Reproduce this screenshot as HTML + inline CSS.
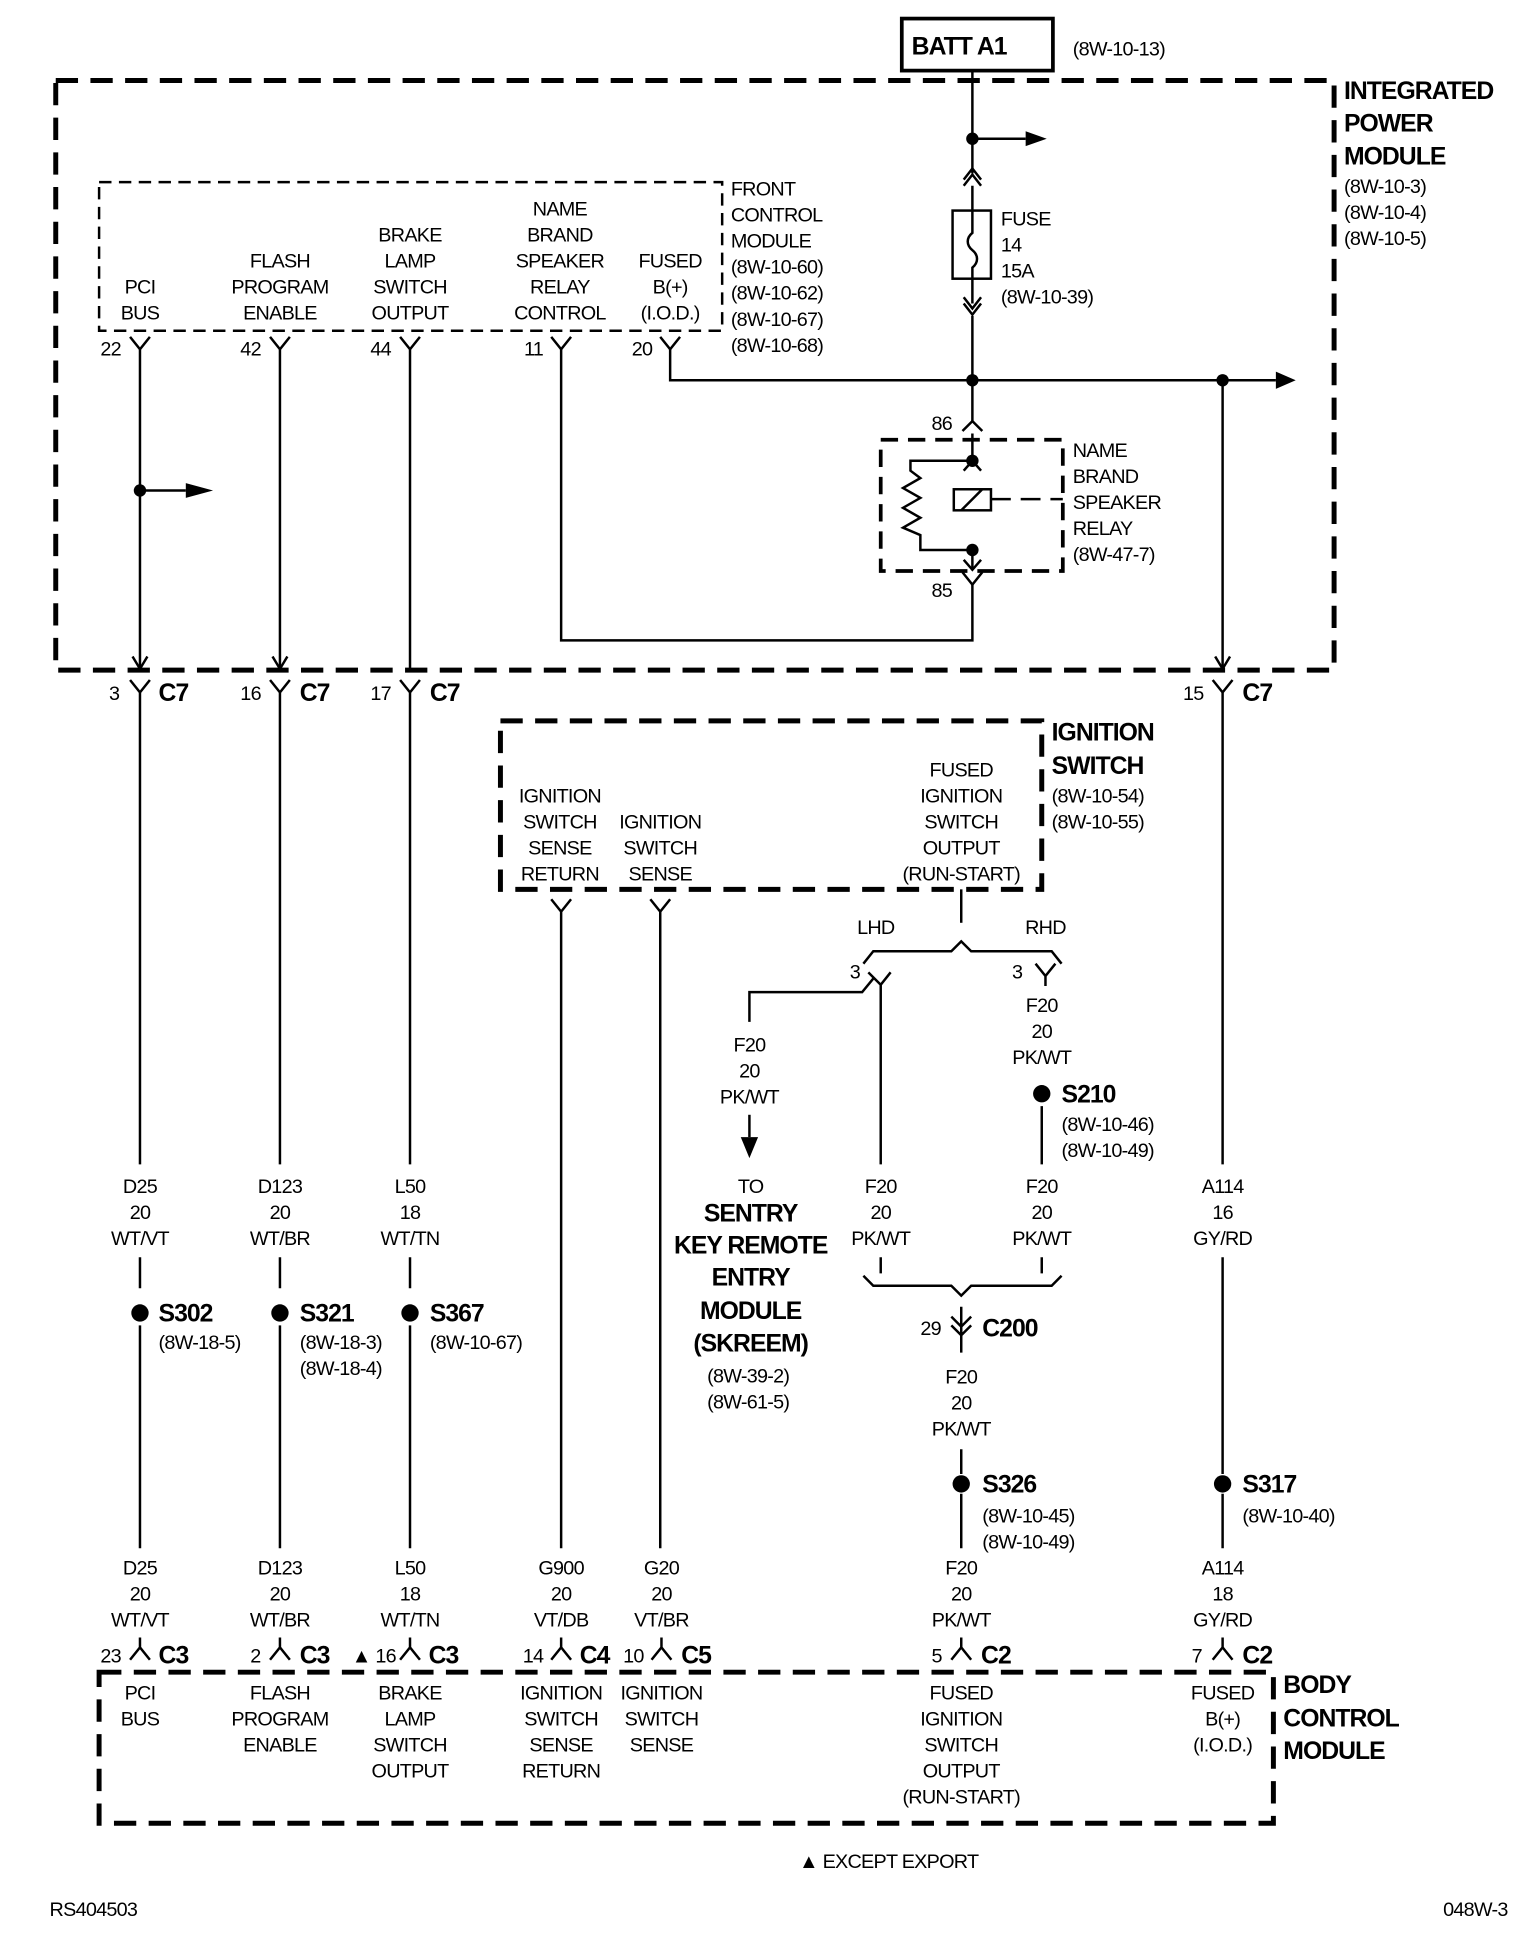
<!DOCTYPE html>
<html><head><meta charset="utf-8"><style>
html,body{margin:0;padding:0;background:#fff;}
svg{display:block}
text{font-family:"Liberation Sans Narrow","Liberation Sans",sans-serif;font-size:16px;fill:#000;letter-spacing:-0.6px}
.b{font-weight:bold;font-size:20px;letter-spacing:-0.8px}
</style></head><body>
<svg width="1536" height="1936" viewBox="0 0 1240 1563" preserveAspectRatio="none" xmlns="http://www.w3.org/2000/svg">
<g fill="none" stroke="#000" stroke-width="2">
<rect x="728" y="15" width="122" height="42" stroke-width="3"/>
<rect x="45" y="65" width="1032" height="476" stroke-width="4" stroke-dasharray="18 10"/>
<rect x="80" y="147" width="503" height="120" stroke-width="2" stroke-dasharray="10 6"/>
<rect x="711" y="355" width="147" height="106" stroke-width="3" stroke-dasharray="14 8"/>
<rect x="404" y="582" width="437" height="136" stroke-width="4" stroke-dasharray="18 10"/>
<rect x="80" y="1350" width="948" height="122" stroke-width="4" stroke-dasharray="18 10"/>
<path d="M785 57V140M785 150V170M785 225V245M785 255V340M785 350V372M785 444V460M785 472V517H453V282"/>
<path d="M778 150L785 141L792 150M778 145L785 136L792 145"/>
<path d="M778 245L785 254L792 245M778 240L785 249L792 240"/>
<rect x="769" y="170" width="31" height="55"/>
<path d="M785 170V188C780 192 780 198 785 202C790 206 790 212 785 216V225"/>
<path d="M785 112H828"/>
<path d="M541 282V307H1030"/>
<path d="M987 307V541"/>
<path d="M777 348L785 340L793 348"/>
<path d="M778 380L785 372L792 380"/>
<path d="M785 372H735V380L743 386L729 394L743 402L729 410L743 418L729 426L743 432V444H785"/>
<rect x="770" y="395" width="30" height="17"/>
<path d="M776 412L793 395"/>
<path d="M800 403H816M824 403H840M848 403H858"/>
<path d="M778 452L785 460L792 452"/>
<path d="M777 462L785 472L793 462"/>
<path d="M105 272L113 282L121 272M113 282V541"/>
<path d="M218 272L226 282L234 272M226 282V541"/>
<path d="M323 272L331 282L339 272M331 282V541"/>
<path d="M445 272L453 282L461 272"/>
<path d="M533 272L541 282L549 272"/>
<path d="M113 396H150"/>
<path d="M107 530L113 540L119 530M220 530L226 540L232 530M981 530L987 540L993 530"/>
<path d="M105 549L113 559L121 549M113 559V940M113 1015V1040M113 1070V1250"/>
<path d="M218 549L226 559L234 549M226 559V940M226 1015V1040M226 1070V1250"/>
<path d="M323 549L331 559L339 549M331 559V940M331 1015V1040M331 1070V1250"/>
<path d="M979 549L987 559L995 549M987 559V940M987 1015V1190M987 1206V1250"/>
<path d="M445 726L453 736L461 726M453 736V1250"/>
<path d="M525 726L533 736L541 726M533 736V1250"/>
<path d="M776 718V745"/>
<path d="M697 778L705 768H768L776 760L784 768H849L857 778"/>
<path d="M701 785L711 795L719 785M711 795V940M711 1015V1028"/>
<path d="M705 790L696 801H605V825"/>
<path d="M605 900V918"/>
<path d="M836 778L844 788L852 778M844 788V796"/>
<path d="M841 893V940M841 1015V1028"/>
<path d="M697 1030L705 1038H768L776 1046L784 1038H849L857 1030"/>
<path d="M776 1055V1092M768 1063L776 1071L784 1063M768 1070L776 1078L784 1070M776 1170V1190M776 1206V1250"/>
<path d="M113 1330L105 1340M113 1330L121 1340M113 1330V1322"/>
<path d="M226 1330L218 1340M226 1330L234 1340M226 1330V1322"/>
<path d="M331 1330L323 1340M331 1330L339 1340M331 1330V1322"/>
<path d="M453 1330L445 1340M453 1330L461 1340M453 1330V1322"/>
<path d="M534 1330L526 1340M534 1330L542 1340M534 1330V1322"/>
<path d="M776 1330L768 1340M776 1330L784 1340M776 1330V1322"/>
<path d="M987 1330L979 1340M987 1330L995 1340M987 1330V1322"/>
</g>
<g fill="#000">
<path d="M828 106L845 112L828 118Z"/>
<path d="M1030 300L1046 307L1030 314Z"/>
<path d="M150 390L172 396L150 402Z"/>
<path d="M598 918L605 935L612 918Z"/>
<circle cx="785" cy="112" r="5"/><circle cx="785" cy="307" r="5"/><circle cx="987" cy="307" r="5"/>
<circle cx="113" cy="396" r="5"/><circle cx="785" cy="372" r="5"/><circle cx="785" cy="444" r="5"/>
<circle cx="113" cy="1060" r="7"/><circle cx="226" cy="1060" r="7"/><circle cx="331" cy="1060" r="7"/>
<circle cx="841" cy="883" r="7"/><circle cx="776" cy="1198" r="7"/><circle cx="987" cy="1198" r="7"/>
</g>
<text x="736" y="44" class="b">BATT A1</text>
<text x="866" y="45">(8W-10-13)</text>
<text x="1085" y="80" class="b">INTEGRATED</text>
<text x="1085" y="106" class="b">POWER</text>
<text x="1085" y="133" class="b">MODULE</text>
<text x="1085" y="156">(8W-10-3)</text>
<text x="1085" y="177">(8W-10-4)</text>
<text x="1085" y="198">(8W-10-5)</text>
<text x="590" y="158">FRONT</text><text x="590" y="179">CONTROL</text><text x="590" y="200">MODULE</text>
<text x="590" y="221">(8W-10-60)</text><text x="590" y="242">(8W-10-62)</text><text x="590" y="263">(8W-10-67)</text><text x="590" y="284">(8W-10-68)</text>
<g text-anchor="middle">
<text x="113" y="237">PCI</text><text x="113" y="258">BUS</text>
<text x="226" y="216">FLASH</text><text x="226" y="237">PROGRAM</text><text x="226" y="258">ENABLE</text>
<text x="331" y="195">BRAKE</text><text x="331" y="216">LAMP</text><text x="331" y="237">SWITCH</text><text x="331" y="258">OUTPUT</text>
<text x="452" y="174">NAME</text><text x="452" y="195">BRAND</text><text x="452" y="216">SPEAKER</text><text x="452" y="237">RELAY</text><text x="452" y="258">CONTROL</text>
<text x="541" y="216">FUSED</text><text x="541" y="237">B(+)</text><text x="541" y="258">(I.O.D.)</text>
</g>
<text x="81" y="287">22</text><text x="194" y="287">42</text><text x="299" y="287">44</text><text x="423" y="287">11</text><text x="510" y="287">20</text>
<text x="808" y="182">FUSE</text><text x="808" y="203">14</text><text x="808" y="224">15A</text><text x="808" y="245">(8W-10-39)</text>
<text x="752" y="347">86</text><text x="752" y="482">85</text>
<text x="866" y="369">NAME</text><text x="866" y="390">BRAND</text><text x="866" y="411">SPEAKER</text><text x="866" y="432">RELAY</text><text x="866" y="453">(8W-47-7)</text>
<text x="88" y="565">3</text><text x="128" y="566" class="b">C7</text>
<text x="194" y="565">16</text><text x="242" y="566" class="b">C7</text>
<text x="299" y="565">17</text><text x="347" y="566" class="b">C7</text>
<text x="955" y="565">15</text><text x="1003" y="566" class="b">C7</text>
<text x="849" y="598" class="b">IGNITION</text><text x="849" y="625" class="b">SWITCH</text>
<text x="849" y="648">(8W-10-54)</text><text x="849" y="669">(8W-10-55)</text>
<g text-anchor="middle">
<text x="452" y="648">IGNITION</text><text x="452" y="669">SWITCH</text><text x="452" y="690">SENSE</text><text x="452" y="711">RETURN</text>
<text x="533" y="669">IGNITION</text><text x="533" y="690">SWITCH</text><text x="533" y="711">SENSE</text>
<text x="776" y="627">FUSED</text><text x="776" y="648">IGNITION</text><text x="776" y="669">SWITCH</text><text x="776" y="690">OUTPUT</text><text x="776" y="711">(RUN-START)</text>
<text x="707" y="754">LHD</text><text x="844" y="754">RHD</text>
<text x="605" y="849">F20</text><text x="605" y="870">20</text><text x="605" y="891">PK/WT</text>
<text x="606" y="963">TO</text>
<text x="606" y="986" class="b">SENTRY</text><text x="606" y="1012" class="b">KEY REMOTE</text><text x="606" y="1038" class="b">ENTRY</text><text x="606" y="1065" class="b">MODULE</text><text x="606" y="1091" class="b">(SKREEM)</text>
<text x="604" y="1116">(8W-39-2)</text><text x="604" y="1137">(8W-61-5)</text>
<text x="841" y="817">F20</text><text x="841" y="838">20</text><text x="841" y="859">PK/WT</text>
<text x="711" y="963">F20</text><text x="711" y="984">20</text><text x="711" y="1005">PK/WT</text>
<text x="841" y="963">F20</text><text x="841" y="984">20</text><text x="841" y="1005">PK/WT</text>
<text x="776" y="1117">F20</text><text x="776" y="1138">20</text><text x="776" y="1159">PK/WT</text>
<text x="113" y="963">D25</text><text x="113" y="984">20</text><text x="113" y="1005">WT/VT</text>
<text x="226" y="963">D123</text><text x="226" y="984">20</text><text x="226" y="1005">WT/BR</text>
<text x="331" y="963">L50</text><text x="331" y="984">18</text><text x="331" y="1005">WT/TN</text>
<text x="987" y="963">A114</text><text x="987" y="984">16</text><text x="987" y="1005">GY/RD</text>
<text x="113" y="1271">D25</text><text x="113" y="1292">20</text><text x="113" y="1313">WT/VT</text>
<text x="226" y="1271">D123</text><text x="226" y="1292">20</text><text x="226" y="1313">WT/BR</text>
<text x="331" y="1271">L50</text><text x="331" y="1292">18</text><text x="331" y="1313">WT/TN</text>
<text x="453" y="1271">G900</text><text x="453" y="1292">20</text><text x="453" y="1313">VT/DB</text>
<text x="534" y="1271">G20</text><text x="534" y="1292">20</text><text x="534" y="1313">VT/BR</text>
<text x="776" y="1271">F20</text><text x="776" y="1292">20</text><text x="776" y="1313">PK/WT</text>
<text x="987" y="1271">A114</text><text x="987" y="1292">18</text><text x="987" y="1313">GY/RD</text>
<text x="113" y="1372">PCI</text><text x="113" y="1393">BUS</text>
<text x="226" y="1372">FLASH</text><text x="226" y="1393">PROGRAM</text><text x="226" y="1414">ENABLE</text>
<text x="331" y="1372">BRAKE</text><text x="331" y="1393">LAMP</text><text x="331" y="1414">SWITCH</text><text x="331" y="1435">OUTPUT</text>
<text x="453" y="1372">IGNITION</text><text x="453" y="1393">SWITCH</text><text x="453" y="1414">SENSE</text><text x="453" y="1435">RETURN</text>
<text x="534" y="1372">IGNITION</text><text x="534" y="1393">SWITCH</text><text x="534" y="1414">SENSE</text>
<text x="776" y="1372">FUSED</text><text x="776" y="1393">IGNITION</text><text x="776" y="1414">SWITCH</text><text x="776" y="1435">OUTPUT</text><text x="776" y="1456">(RUN-START)</text>
<text x="987" y="1372">FUSED</text><text x="987" y="1393">B(+)</text><text x="987" y="1414">(I.O.D.)</text>
</g>
<text x="686" y="790">3</text><text x="817" y="790">3</text>
<text x="857" y="890" class="b">S210</text><text x="857" y="913">(8W-10-46)</text><text x="857" y="934">(8W-10-49)</text>
<text x="128" y="1067" class="b">S302</text><text x="128" y="1089">(8W-18-5)</text>
<text x="242" y="1067" class="b">S321</text><text x="242" y="1089">(8W-18-3)</text><text x="242" y="1110">(8W-18-4)</text>
<text x="347" y="1067" class="b">S367</text><text x="347" y="1089">(8W-10-67)</text>
<text x="743" y="1078">29</text><text x="793" y="1079" class="b">C200</text>
<text x="793" y="1205" class="b">S326</text><text x="793" y="1229">(8W-10-45)</text><text x="793" y="1250">(8W-10-49)</text>
<text x="1003" y="1205" class="b">S317</text><text x="1003" y="1229">(8W-10-40)</text>
<text x="81" y="1342">23</text><text x="128" y="1343" class="b">C3</text>
<text x="202" y="1342">2</text><text x="242" y="1343" class="b">C3</text>
<text x="284" y="1342">▲ 16</text><text x="346" y="1343" class="b">C3</text>
<text x="422" y="1342">14</text><text x="468" y="1343" class="b">C4</text>
<text x="503" y="1342">10</text><text x="550" y="1343" class="b">C5</text>
<text x="752" y="1342">5</text><text x="792" y="1343" class="b">C2</text>
<text x="962" y="1342">7</text><text x="1003" y="1343" class="b">C2</text>
<text x="1036" y="1367" class="b">BODY</text><text x="1036" y="1394" class="b">CONTROL</text><text x="1036" y="1420" class="b">MODULE</text>
<text x="645" y="1508">▲ EXCEPT EXPORT</text>
<text x="40" y="1547">RS404503</text>
<text x="1165" y="1547">048W-3</text>
</svg>
</body></html>
